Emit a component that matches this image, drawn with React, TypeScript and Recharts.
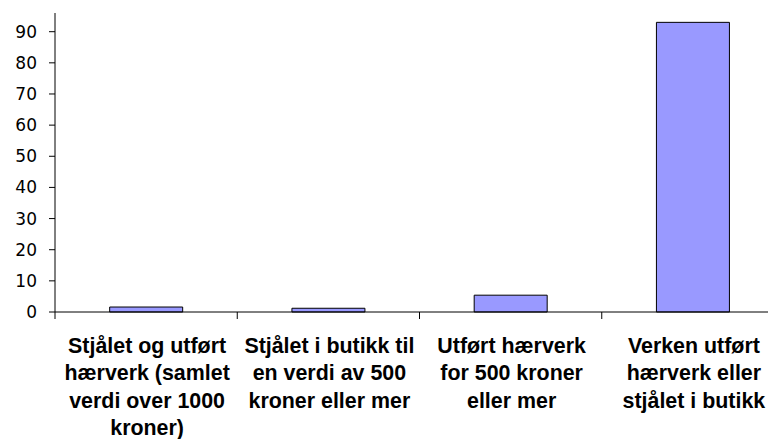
import { BarChart, Bar, XAxis, YAxis } from "recharts";

// category labels, one entry per wrapped line
const categories = [
  ["Stjålet og utført", "hærverk (samlet", "verdi over 1000", "kroner)"],
  ["Stjålet i butikk til", "en verdi av 500", "kroner eller mer"],
  ["Utført hærverk", "for 500 kroner", "eller mer"],
  ["Verken utført", "hærverk eller", "stjålet i butikk"],
];
const values = [1.6, 1.2, 5.4, 93.0];
const yTicks = [0, 10, 20, 30, 40, 50, 60, 70, 80, 90];

const data = categories.map((lines, i) => ({
  name: lines.join(" "),
  lines,
  value: values[i],
}));

const CHART_W = 798;
const CHART_H = 439;
const Y_AXIS_W = 55;
const MARGIN = { top: 13, right: 14, left: 0, bottom: 0 };
const BAND = (CHART_W - MARGIN.left - MARGIN.right - Y_AXIS_W) / categories.length;

const CategoryTick = ({ x, y, payload }: any) => {
  const lines: string[] = data[payload.index]?.lines ?? [];
  return (
    <g>
      <line x1={x - BAND / 2} y1={y} x2={x - BAND / 2} y2={y + 7} stroke="#000" />
      <text
        textAnchor="middle"
        fontFamily="'Liberation Sans', Arial, sans-serif"
        fontWeight="bold"
        fontSize={21.4}
        fill="#000"
      >
        {lines.map((l, k) => (
          <tspan key={k} x={x + 1} y={y + 41 + k * 27.3}>
            {l}
          </tspan>
        ))}
      </text>
    </g>
  );
};

export default function App() {
  return (
    <div style={{ width: 768, height: CHART_H, overflow: "hidden", background: "#fff" }}>
      <style>{`body { margin: 0; overflow: hidden; }`}</style>
      <BarChart
        width={CHART_W}
        height={CHART_H}
        data={data}
        margin={MARGIN}
        barCategoryGap="30%"
      >
        <XAxis
          dataKey="name"
          height={127}
          interval={0}
          tickLine={false}
          tickSize={0}
          tickMargin={0}
          axisLine={{ stroke: "#000" }}
          tick={<CategoryTick />}
        />
        <YAxis
          width={Y_AXIS_W}
          domain={[0, 96]}
          ticks={yTicks}
          tickSize={6}
          tickMargin={12}
          axisLine={{ stroke: "#000" }}
          tickLine={{ stroke: "#000" }}
          tick={{ fontSize: 17, fill: "#000", fontFamily: "'DejaVu Sans', sans-serif" }}
        />
        <Bar
          dataKey="value"
          fill="#9999ff"
          stroke="#000"
          strokeWidth={1}
          isAnimationActive={false}
        />
      </BarChart>
    </div>
  );
}
